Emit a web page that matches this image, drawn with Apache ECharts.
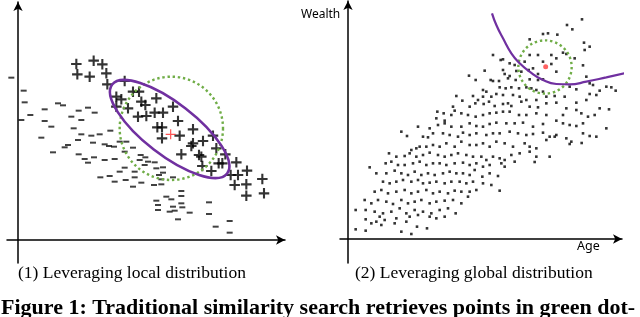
<!DOCTYPE html>
<html><head><meta charset="utf-8">
<script src="https://cdn.jsdelivr.net/npm/echarts@6/dist/echarts.min.js"></script>
<style>html,body{margin:0;padding:0;background:#fff}#c{width:640px;height:317px}</style>
</head><body><div id="c"></div>
<script>
// ---- Panel (1): local distribution ----
const plusPoints = [
[175,528],[227,538],[253,527],[178,497],[215,490],[265,500],[268,467],[320,477],[295,430],[310,422],
[345,445],[363,445],[370,415],[382,405],[415,425],[295,400],[330,395],[360,370],[385,372],[410,382],
[435,382],[465,400],[480,357],[418,338],[432,338],[432,305],[485,313],[525,332],[525,290],[555,297],
[585,313],[595,275],[490,257],[543,255],[550,250],[622,257],[553,222],[580,207],[602,230],[613,230],
[655,233],[638,195],[660,195],[687,208],[650,165],[685,167],[733,183],[685,133],[738,140],[520,282]
];
const minusPoints = [
[-20,487],[17,448],[-43,417],[20,413],[10,360],[37,375],[80,392],[120,410],[135,404],[182,388],
[210,397],[230,382],[80,357],[100,340],[160,370],[190,360],[167,335],[70,307],[190,317],[220,313],
[245,317],[277,328],[105,263],[140,278],[150,285],[180,300],[225,292],[260,287],[273,282],[288,280],
[305,295],[325,295],[345,277],[182,257],[200,243],[210,232],[228,248],[260,240],[290,243],[320,265],
[368,255],[365,240],[382,248],[390,235],[380,225],[410,233],[435,218],[415,215],[435,202],[423,195],
[320,217],[305,205],[247,188],[275,192],[290,175],[323,180],[350,205],[350,188],[370,172],[345,160],
[408,165],[430,167],[465,188],[430,182],[490,147],[490,132],[445,130],[460,122],[415,118],[420,105],
[465,100],[490,110],[420,90],[455,85],[470,88],[493,98],[515,82],[480,62],[573,113],[573,78],
[593,40],[635,57],[635,22]
];
const queryLocal = [[458,317]];
// [centerX, centerY, semiMajor, semiMinor, angleDeg]
const localEllipse = [[455,333,218,78,-37.7]];
// [centerX, centerY, radius]
const localCircle = [[460,335,155]];

// ---- Panel (2): global distribution (Age, Wealth) ----
const globalPoints = [
[702,659],[657,642],[585,615],[600,617],[628,613],[673,629],[545,599],[708,589],[725,577],[710,567],
[645,559],[655,555],[435,552],[458,537],[465,539],[485,527],[500,522],[530,532],[545,552],[570,552],
[585,532],[610,552],[625,542],[680,542],[542,507],[410,505],[465,507],[470,495],[485,489],[505,504],
[520,502],[555,512],[570,495],[610,525],[625,502],[705,521],[363,490],[383,477],[428,477],[435,474],
[453,474],[480,482],[503,477],[545,479],[570,477],[585,479],[715,487],[725,467],[735,462],[405,447],
[415,442],[455,455],[473,452],[490,455],[513,452],[535,455],[550,452],[565,447],[585,442],[665,457],
[685,449],[775,457],[790,455],[803,445],[325,429],[375,429],[390,417],[405,427],[430,427],[445,435],
[465,432],[495,432],[515,427],[535,417],[565,417],[595,427],[620,429],[650,427],[725,435],[745,432],
[755,445],[268,382],[287,377],[315,397],[343,415],[365,397],[382,407],[407,405],[423,412],[440,399],
[465,405],[480,407],[490,399],[520,412],[545,397],[570,395],[595,407],[625,409],[655,392],[685,409],
[715,417],[755,392],[783,389],[265,362],[290,355],[310,372],[320,385],[340,377],[360,372],[383,367],
[405,372],[425,377],[445,379],[465,382],[485,382],[513,372],[535,372],[565,377],[595,372],[645,372],
[685,387],[700,377],[720,367],[740,372],[210,337],[245,332],[270,342],[290,347],[310,337],[340,337],
[365,347],[385,339],[405,337],[425,345],[445,349],[475,347],[500,347],[525,349],[555,337],[585,345],
[625,355],[645,347],[665,342],[685,339],[705,347],[160,322],[177,309],[225,307],[240,305],[255,317],
[285,317],[305,312],[330,307],[345,319],[365,312],[385,317],[415,312],[435,317],[455,317],[485,322],
[510,317],[535,312],[555,315],[585,319],[605,307],[625,312],[655,302],[670,292],[705,317],[725,309],
[745,307],[775,332],[665,285],[701,288],[560,231],[215,277],[235,277],[190,267],[205,272],[255,282],
[275,277],[295,287],[320,277],[340,292],[365,282],[385,282],[405,287],[425,277],[445,292],[470,287],
[495,277],[530,287],[545,277],[565,272],[595,297],[620,307],[123,257],[145,247],[170,249],[185,257],
[205,247],[225,252],[245,259],[270,252],[290,247],[310,252],[330,257],[355,252],[375,247],[400,247],
[415,237],[435,247],[455,242],[470,237],[490,252],[515,257],[545,262],[565,247],[605,247],[113,227],
[130,232],[150,222],[170,222],[195,227],[215,232],[235,222],[255,227],[275,227],[295,222],[320,227],
[345,229],[365,222],[385,227],[405,217],[425,222],[460,227],[470,217],[500,232],[65,215],[85,197],
[115,197],[140,205],[160,197],[180,192],[200,202],[220,192],[240,197],[260,192],[285,197],[305,202],
[325,197],[345,197],[365,192],[380,207],[403,187],[425,197],[450,189],[105,172],[125,167],[145,172],
[165,177],[190,172],[210,177],[225,167],[245,169],[265,172],[290,167],[310,172],[335,172],[355,167],
[375,172],[405,167],[430,162],[455,145],[80,142],[100,147],[120,137],[145,142],[170,147],[190,137],
[210,142],[235,147],[255,137],[275,142],[300,137],[320,145],[340,142],[365,142],[385,147],[50,117],
[70,107],[90,117],[115,112],[135,105],[160,117],[180,107],[200,112],[220,117],[245,107],[265,112],
[290,115],[315,117],[340,107],[360,127],[23,87],[53,87],[80,82],[105,77],[130,82],[155,92],
[175,77],[200,87],[225,82],[250,77],[275,87],[300,92],[323,77],[95,67],[145,62],[185,67],
[210,72],[245,67],[265,62],[290,67],[53,59],[85,52],[110,57],[140,47],[175,52],[207,37],
[237,32],[70,47],[100,42],[23,29],[53,25],[160,22],[190,15]
];
const boundaryCurve = [
[432,677],[445,642],[465,602],[490,557],[515,527],[545,502],[585,477],[625,465],[665,464],[715,472],[775,485],[850,502]
];
const globalCircle = [[591,516,80]];
const queryGlobal = [[593,517]];

// ---- Text ----
const captions = ['(1) Leveraging local distribution', '(2) Leveraging global distribution'];
const figureTitle = 'Figure 1: Traditional similarity search retrieves points in green dot-';
const axisNames = ['Wealth', 'Age'];

const chart = echarts.init(document.getElementById('c'), null, {renderer: 'canvas'});

function axis(gridIndex, min, max) {
  return {
    type: 'value', gridIndex, min, max,
    axisLine: {onZero: true, symbol: ['none', 'arrow'], symbolSize: [7, 9], lineStyle: {color: '#000', width: 1.5}},
    axisTick: {show: false}, axisLabel: {show: false}, splitLine: {show: false}
  };
}

function ellipseItem(params, api) {
  const c = api.coord([api.value(0), api.value(1)]);
  const s = api.size([api.value(2), api.value(3)]);
  return {
    type: 'ellipse', x: c[0], y: c[1], rotation: api.value(4) * Math.PI / 180,
    shape: {cx: 0, cy: 0, rx: s[0], ry: s[1]},
    style: {fill: 'none', stroke: '#7030a0', lineWidth: 2.6}
  };
}
function circleItem(params, api) {
  const c = api.coord([api.value(0), api.value(1)]);
  const s = api.size([api.value(2), api.value(2)]);
  return {
    type: 'circle', shape: {cx: c[0], cy: c[1], r: s[0]},
    style: {fill: 'none', stroke: '#70ad47', lineWidth: 2.4, lineDash: [2.4, 2.8]}
  };
}

const plusPath = 'path://M4,0h2v4h4v2h-4v4h-2v-4h-4v-2h4z';
const thinPlus = 'path://M4.4,0h1.2v4.4h4.4v1.2h-4.4v4.4h-1.2v-4.4h-4.4v-1.2h4.4z';

chart.setOption({
  animation: false,
  grid: [
    {left: 7, top: 2, width: 278, height: 261},
    {left: 340, top: 1, width: 282, height: 262}
  ],
  xAxis: [axis(0, -33, 801), axis(1, -24, 822)],
  yAxis: [axis(0, -69, 714), axis(1, -72, 714)],
  series: [
    {type: 'scatter', xAxisIndex: 0, yAxisIndex: 0, data: minusPoints, symbol: 'rect', symbolSize: [6, 2], itemStyle: {color: '#111'}},
    {type: 'scatter', xAxisIndex: 0, yAxisIndex: 0, data: plusPoints, symbol: plusPath, symbolSize: 10.5, itemStyle: {color: '#000'}},
    {type: 'custom', xAxisIndex: 0, yAxisIndex: 0, data: localCircle, renderItem: circleItem, z: 3},
    {type: 'custom', xAxisIndex: 0, yAxisIndex: 0, data: localEllipse, renderItem: ellipseItem, z: 4},
    {type: 'scatter', xAxisIndex: 0, yAxisIndex: 0, data: queryLocal, symbol: thinPlus, symbolSize: 10, itemStyle: {color: '#ff2a2a'}, z: 5},
    {type: 'scatter', xAxisIndex: 1, yAxisIndex: 1, data: globalPoints, symbol: 'rect', symbolSize: 2.6, itemStyle: {color: '#000'}},
    {type: 'custom', xAxisIndex: 1, yAxisIndex: 1, data: globalCircle, renderItem: circleItem, z: 3},
    {type: 'line', xAxisIndex: 1, yAxisIndex: 1, data: boundaryCurve, smooth: true, symbol: 'none', clip: false, lineStyle: {color: '#7030a0', width: 2.2}, z: 4},
    {type: 'scatter', xAxisIndex: 1, yAxisIndex: 1, data: queryGlobal, symbol: 'circle', symbolSize: 5, itemStyle: {color: '#ff3b3b'}, z: 5}
  ],
  graphic: [
    {type: 'text', left: 301, top: 9, style: {text: axisNames[0], font: '12px "Noto Sans", sans-serif', fill: '#000'}},
    {type: 'text', left: 577, top: 240, style: {text: axisNames[1], font: '12.5px "Noto Sans", sans-serif', fill: '#000'}},
    {type: 'text', left: 18, top: 264, style: {text: captions[0], font: '17.5px "Liberation Serif", serif', fill: '#000'}},
    {type: 'text', left: 355, top: 264, style: {text: captions[1], font: '17.5px "Liberation Serif", serif', fill: '#000'}},
    {type: 'text', left: 1, top: 297, style: {text: figureTitle, font: 'bold 22px "Liberation Serif", serif', fill: '#000'}}
  ]
});
</script></body></html>
